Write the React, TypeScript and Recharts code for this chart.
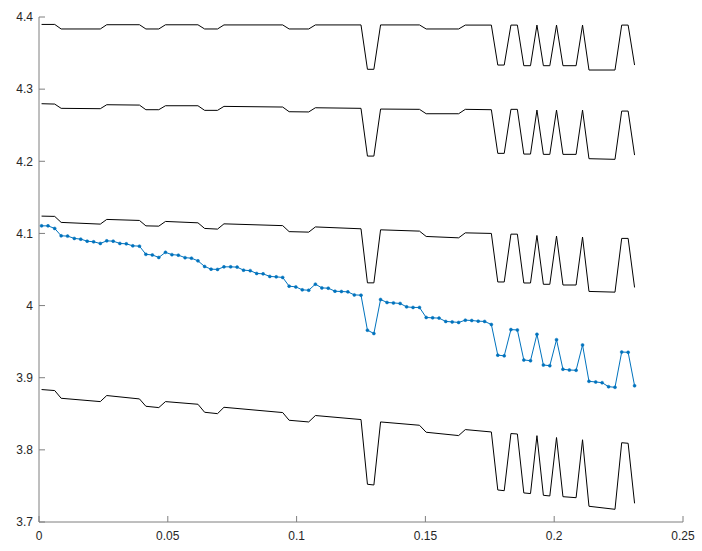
import React from 'react';
import { LineChart, Line, XAxis, YAxis } from 'recharts';

// sample positions (shared by every series)
const xValues = [
  0.0010, 0.0035, 0.0061, 0.0086, 0.0111, 0.0137, 0.0162, 0.0187, 0.0212, 0.0238,
  0.0263, 0.0288, 0.0314, 0.0339, 0.0364, 0.0390, 0.0415, 0.0440, 0.0465, 0.0491,
  0.0516, 0.0541, 0.0567, 0.0592, 0.0617, 0.0643, 0.0668, 0.0693, 0.0718, 0.0744,
  0.0769, 0.0794, 0.0820, 0.0845, 0.0870, 0.0896, 0.0921, 0.0946, 0.0971, 0.0997,
  0.1022, 0.1047, 0.1073, 0.1098, 0.1123, 0.1149, 0.1174, 0.1199, 0.1224, 0.1250,
  0.1275, 0.1300, 0.1326, 0.1351, 0.1376, 0.1402, 0.1427, 0.1452, 0.1477, 0.1503,
  0.1528, 0.1553, 0.1579, 0.1604, 0.1629, 0.1655, 0.1680, 0.1705, 0.1730, 0.1756,
  0.1781, 0.1806, 0.1832, 0.1857, 0.1882, 0.1908, 0.1933, 0.1958, 0.1983, 0.2009,
  0.2034, 0.2059, 0.2085, 0.2110, 0.2135, 0.2161, 0.2186, 0.2211, 0.2236, 0.2262,
  0.2287, 0.2312,
];

// measured series (blue, with markers)
const measured = [
  4.1105, 4.1105, 4.1069, 4.0967, 4.0963, 4.0931, 4.0921, 4.0893, 4.0884, 4.0861,
  4.0897, 4.0893, 4.0861, 4.0856, 4.0828, 4.0824, 4.0710, 4.0702, 4.0667, 4.0738,
  4.0706, 4.0699, 4.0664, 4.0657, 4.0620, 4.0542, 4.0505, 4.0501, 4.0537, 4.0537,
  4.0533, 4.0491, 4.0484, 4.0445, 4.0440, 4.0404, 4.0398, 4.0390, 4.0269, 4.0259,
  4.0218, 4.0213, 4.0297, 4.0245, 4.0241, 4.0199, 4.0195, 4.0190, 4.0148, 4.0144,
  3.9659, 3.9613, 4.0084, 4.0043, 4.0037, 4.0029, 3.9982, 3.9974, 3.9974, 3.9835,
  3.9830, 3.9826, 3.9780, 3.9774, 3.9766, 3.9798, 3.9793, 3.9784, 3.9780, 3.9738,
  3.9313, 3.9303, 3.9667, 3.9662, 3.9246, 3.9236, 3.9602, 3.9176, 3.9167, 3.9527,
  3.9117, 3.9107, 3.9103, 3.9454, 3.8950, 3.8941, 3.8931, 3.8876, 3.8867, 3.9356,
  3.9352, 3.8889,
];

// indices where the black bound lines change slope
const breakIdx = [
  0, 2, 3, 9, 10, 15, 16, 18, 19, 24, 25, 27, 28, 37, 38, 41, 42, 49, 50, 51, 52, 58,
  59, 64, 65, 69, 70, 71, 72, 73, 74, 75, 76, 77, 78, 79, 80, 82, 83, 84, 88, 89, 90, 91,
];

const boundA = [
  4.3897, 4.3897, 4.3834, 4.3834, 4.3893, 4.3893, 4.3834, 4.3834, 4.3892, 4.3892, 4.3834,
  4.3834, 4.3890, 4.3890, 4.3834, 4.3834, 4.3890, 4.3890, 4.3275, 4.3275, 4.3890, 4.3890,
  4.3834, 4.3834, 4.3888, 4.3888, 4.3334, 4.3334, 4.3888, 4.3888, 4.3325, 4.3325, 4.3888,
  4.3325, 4.3325, 4.3888, 4.3325, 4.3325, 4.3888, 4.3265, 4.3265, 4.3888, 4.3888, 4.3334,
];

const boundB = [
  4.2798, 4.2793, 4.2734, 4.2729, 4.2784, 4.2779, 4.2715, 4.2715, 4.2770, 4.2770, 4.2706,
  4.2706, 4.2761, 4.2752, 4.2687, 4.2684, 4.2742, 4.2734, 4.2072, 4.2072, 4.2724, 4.2720,
  4.2659, 4.2659, 4.2720, 4.2715, 4.2110, 4.2110, 4.2720, 4.2720, 4.2100, 4.2100, 4.2710,
  4.2096, 4.2096, 4.2710, 4.2096, 4.2096, 4.2710, 4.2036, 4.2027, 4.2696, 4.2696, 4.2086,
];

const boundC = [
  4.1240, 4.1236, 4.1153, 4.1129, 4.1194, 4.1180, 4.1105, 4.1101, 4.1166, 4.1147, 4.1069,
  4.1060, 4.1133, 4.1108, 4.1025, 4.1018, 4.1090, 4.1064, 4.0315, 4.0315, 4.1050, 4.1032,
  4.0958, 4.0939, 4.1008, 4.1000, 4.0327, 4.0327, 4.0990, 4.0990, 4.0313, 4.0313, 4.0972,
  4.0295, 4.0295, 4.0964, 4.0285, 4.0285, 4.0950, 4.0196, 4.0186, 4.0931, 4.0931, 4.0251,
];

const boundD = [
  3.8836, 3.8822, 3.8715, 3.8669, 3.8753, 3.8706, 3.8604, 3.8586, 3.8669, 3.8632, 3.8521,
  3.8502, 3.8590, 3.8517, 3.8410, 3.8387, 3.8476, 3.8420, 3.7523, 3.7513, 3.8387, 3.8341,
  3.8244, 3.8198, 3.8281, 3.8248, 3.7444, 3.7434, 3.8226, 3.8220, 3.7403, 3.7394, 3.8197,
  3.7370, 3.7361, 3.8171, 3.7351, 3.7337, 3.8140, 3.7218, 3.7176, 3.8099, 3.8091, 3.7259,
];

const xTicks = [0, 0.05, 0.1, 0.15, 0.2, 0.25];
const yTicks = [3.7, 3.8, 3.9, 4, 4.1, 4.2, 4.3, 4.4];

const pick = (arr: number[], i: number) => {
  const k = breakIdx.indexOf(i);
  return k >= 0 ? arr[k] : null;
};

const data = xValues.map((x, i) => ({
  x,
  measured: measured[i],
  a: pick(boundA, i),
  b: pick(boundB, i),
  c: pick(boundC, i),
  d: pick(boundD, i),
}));

const axisColor = '#7f7f7f';
const tickFont = { fontSize: 12, fill: '#262626', fontFamily: '"Liberation Sans", Arial, sans-serif' };

export default function App() {
  return (
    <div style={{ position: 'absolute', left: 0, top: 0, width: 702, height: 551, background: '#fff' }}>
      <LineChart
        width={702}
        height={551}
        data={data}
        margin={{ top: 17, right: 19, bottom: 0, left: 0 }}
      >
        <XAxis
          xAxisId="bottom"
          dataKey="x"
          type="number"
          domain={[0, 0.25]}
          ticks={xTicks}
          height={29}
          stroke={axisColor}
          tickSize={-6}
          tickMargin={15}
          tick={tickFont}
        />
        <XAxis
          xAxisId="top"
          orientation="top"
          dataKey="x"
          type="number"
          domain={[0, 0.25]}
          ticks={xTicks}
          height={0}
          stroke={axisColor}
          tickSize={-6}
          tick={false}
        />
        <YAxis
          yAxisId="left"
          type="number"
          domain={[3.7, 4.4]}
          ticks={yTicks}
          width={39}
          stroke={axisColor}
          tickSize={-6}
          tickMargin={12}
          tick={tickFont}
        />
        <YAxis
          yAxisId="right"
          orientation="right"
          type="number"
          domain={[3.7, 4.4]}
          ticks={yTicks}
          width={0}
          stroke={axisColor}
          tickSize={-6}
          tick={false}
        />
        {['a', 'b', 'c', 'd'].map((k) => (
          <Line
            key={k}
            xAxisId="bottom"
            yAxisId="left"
            type="linear"
            dataKey={k}
            stroke="#000"
            strokeWidth={1}
            dot={false}
            activeDot={false}
            connectNulls
            isAnimationActive={false}
          />
        ))}
        <Line
          xAxisId="bottom"
          yAxisId="left"
          type="linear"
          dataKey="measured"
          stroke="#0072BD"
          strokeWidth={1}
          dot={{ r: 1.5, fill: '#0072BD', stroke: '#0072BD', strokeWidth: 0.5 }}
          activeDot={false}
          isAnimationActive={false}
        />
      </LineChart>
    </div>
  );
}
